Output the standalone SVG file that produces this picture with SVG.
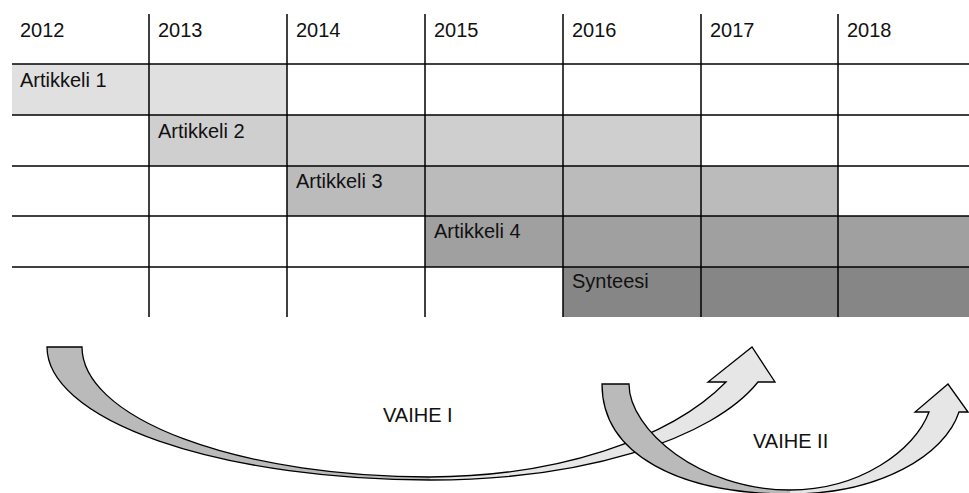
<svg xmlns="http://www.w3.org/2000/svg" width="969" height="493" viewBox="0 0 969 493">
<style>
text{font-family:"Liberation Sans",Arial,sans-serif;font-size:20px;fill:#111}
.grid line{stroke:#000;stroke-width:1.5}
.edge{fill:none;stroke:#000;stroke-width:1.3;stroke-linejoin:miter}
.dark{fill:#bababa;stroke:none}
.light{fill:#e6e6e6;stroke:none}
</style>
<rect width="969" height="493" fill="#fff"/>
<g id="bars">
<rect id="bar1" x="12" y="64" width="275" height="51" fill="#e0e0e0"/>
<rect id="bar2" x="149" y="115" width="552" height="51" fill="#cfcfcf"/>
<rect id="bar3" x="287" y="166" width="551" height="50" fill="#bbbbbb"/>
<rect id="bar4" x="425" y="216" width="544" height="51" fill="#a0a0a0"/>
<rect id="bar5" x="563" y="267" width="406" height="50" fill="#868686"/>
</g>
<g class="grid" id="grid">
<line x1="12" y1="64" x2="969" y2="64"/>
<line x1="12" y1="115" x2="969" y2="115"/>
<line x1="12" y1="166" x2="969" y2="166"/>
<line x1="12" y1="216" x2="969" y2="216"/>
<line x1="12" y1="267" x2="969" y2="267"/>
<line x1="149" y1="14" x2="149" y2="317"/>
<line x1="287" y1="14" x2="287" y2="317"/>
<line x1="425" y1="14" x2="425" y2="317"/>
<line x1="563" y1="14" x2="563" y2="317"/>
<line x1="701" y1="14" x2="701" y2="317"/>
<line x1="838" y1="14" x2="838" y2="317"/>
</g>
<g id="years">
<text x="20" y="37">2012</text>
<text x="158" y="37">2013</text>
<text x="296" y="37">2014</text>
<text x="434" y="37">2015</text>
<text x="572" y="37">2016</text>
<text x="710" y="37">2017</text>
<text x="847" y="37">2018</text>
</g>
<g id="label1"><text x="20" y="87">Artikkeli 1</text></g>
<g id="label2"><text x="158" y="138">Artikkeli 2</text></g>
<g id="label3"><text x="296" y="188">Artikkeli 3</text></g>
<g id="label4"><text x="434" y="238">Artikkeli 4</text></g>
<g id="label5"><text x="572" y="288">Synteesi</text></g>
<g id="connectors">
<g id="arrow1">
<path class="light" d="M430,477 A335,174 0 0 0 726,382 L708,382 L752,347 L775,382 L758,382 A345,143 0 0 1 430,480 Z"/>
<path class="dark" d="M47,347 L82,347 A348,130 0 0 0 430,477 L430,480 A383,133 0 0 1 47,347 Z"/>
<path class="edge" d="M430,477 A335,174 0 0 0 726,382 L708,382 L752,347 L775,382 L758,382 A345,143 0 0 1 430,480"/>
<path class="edge" d="M430,480 A383,133 0 0 1 47,347 L82,347 A348,130 0 0 0 430,477"/>
</g>
<g id="arrow2">
<path class="light" d="M790,490 C860,490 915,450 929,412 L915,412 L948,384 L968,412 L959,412 C945,455 880,494 790,494 Z"/>
<path class="dark" d="M602,384 L629,384 C629,430 700,490 790,490 L790,494 C680,494 602,455 602,384 Z"/>
<path class="edge" d="M790,490 C860,490 915,450 929,412 L915,412 L948,384 L968,412 L959,412 C945,455 880,494 790,494"/>
<path class="edge" d="M790,494 C680,494 602,455 602,384 L629,384 C629,430 700,490 790,490"/>
</g>
</g>
<g id="phase1"><text x="383" y="422">VAIHE I</text></g>
<g id="phase2"><text x="753" y="448">VAIHE II</text></g>
</svg>
